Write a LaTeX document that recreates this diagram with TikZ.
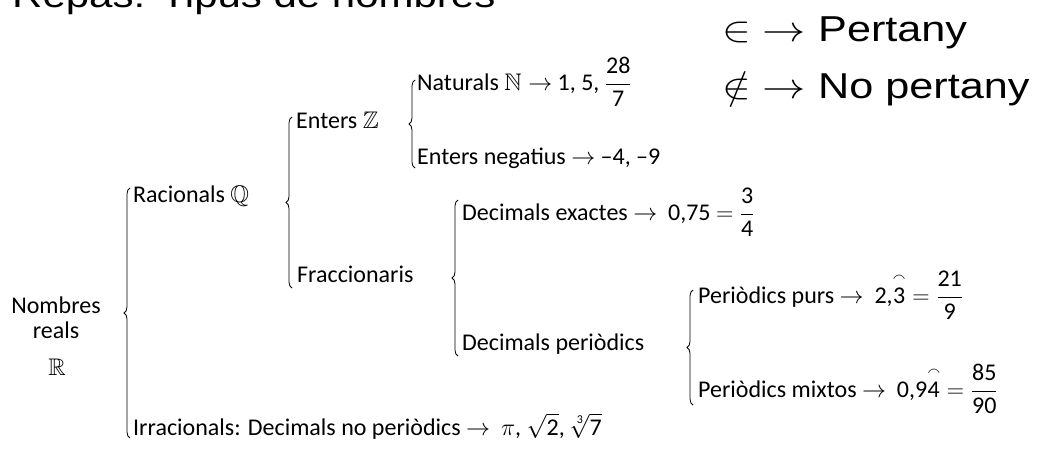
\RequirePackage{fix-cm}
\documentclass[tikz,border=0pt]{standalone}
\usepackage{amsmath,amssymb}
\usepackage{fontspec}
\setmainfont{Carlito}
\newfontfamily\arialf{Liberation Sans}
\usetikzlibrary{decorations.pathreplacing}
\newcommand\wide[1]{\scalebox{1.2}[1]{#1}}
\newcommand\tx[1]{\text{#1}}
\newcommand\arc[1]{\overset{\smallfrown}{\text{#1}}}
\begin{document}
\begin{tikzpicture}[x=1pt,y=-1pt,
  lbl/.style={anchor=base west,inner sep=0pt,font=\fontsize{24}{28}\selectfont},
  ctr/.style={anchor=base,inner sep=0pt,font=\fontsize{24}{28}\selectfont},
  big/.style={anchor=base west,inner sep=0pt,font=\arialf\fontsize{36}{40}\selectfont},
  brc/.style={decorate,decoration={brace,amplitude=6pt},line width=0.8pt}]
\useasboundingbox (0,0) rectangle (1041,448);
\clip (0,0) rectangle (1041,448);
\fill[white] (0,0) rectangle (1041,448);
% title and legend
\node[big,font=\arialf\fontsize{35}{40}\selectfont] (title) at (12,7) {\wide{Repàs: Tipus de nombres}};
\node[big] (in) at (722,41) {\wide{$\in$ $\rightarrow$ Pertany}};
\node[big] (notin) at (722,98) {\wide{$\notin$ $\rightarrow$ No pertany}};
% root
\node[ctr] (nom) at (56,313) {Nombres};
\node[ctr] (rea) at (56,338) {reals};
\node[ctr] (RR) at (57,375) {$\mathbb{R}$};
% level 1
\node[lbl] (rac) at (133,202) {Racionals $\mathbb{Q}$};
\node[lbl] (irr) at (133,435) {Irracionals: Decimals no periòdics $\rightarrow$\ \ $\pi$, $\sqrt{\tx{2}}$, $\sqrt[\tx{3}]{\tx{7}}$};
% level 2
\node[lbl] (ent) at (296,128) {Enters $\mathbb{Z}$};
\node[lbl] (fra) at (297,282) {Fraccionaris};
% level 3
\node[lbl] (nat) at (417,90) {Naturals $\mathbb{N}\rightarrow$ 1, 5, $\dfrac{\tx{28}}{\tx{7}}$};
\node[lbl] (neg) at (417,164) {Enters negatius $\rightarrow$ –4, –9};
\node[lbl] (dex) at (462,220) {Decimals exactes $\rightarrow$\ \ 0,75 $=\dfrac{\tx{3}}{\tx{4}}$};
\node[lbl] (dpe) at (462,350) {Decimals periòdics};
% level 4
\node[lbl] (pp) at (698,303) {Periòdics purs $\rightarrow$\ \ 2,$\arc{3}=\dfrac{\tx{21}}{\tx{9}}$};
\node[lbl] (pm) at (698,397) {Periòdics mixtos $\rightarrow$\ \ 0,9$\arc{4}=\dfrac{\tx{85}}{\tx{90}}$};
% braces
\coordinate (b1a) at (130,438); \coordinate (b1b) at (130,188);
\coordinate (b2a) at (292,288); \coordinate (b2b) at (292,117);
\coordinate (b3a) at (415,168); \coordinate (b3b) at (415,80);
\coordinate (b4a) at (458,356); \coordinate (b4b) at (458,200);
\coordinate (b5a) at (693,405); \coordinate (b5b) at (693,290);
\draw[brc] (b1a) -- (b1b);
\draw[brc] (b2a) -- (b2b);
\draw[brc] (b3a) -- (b3b);
\draw[brc] (b4a) -- (b4b);
\draw[brc] (b5a) -- (b5b);
\end{tikzpicture}
\end{document}
